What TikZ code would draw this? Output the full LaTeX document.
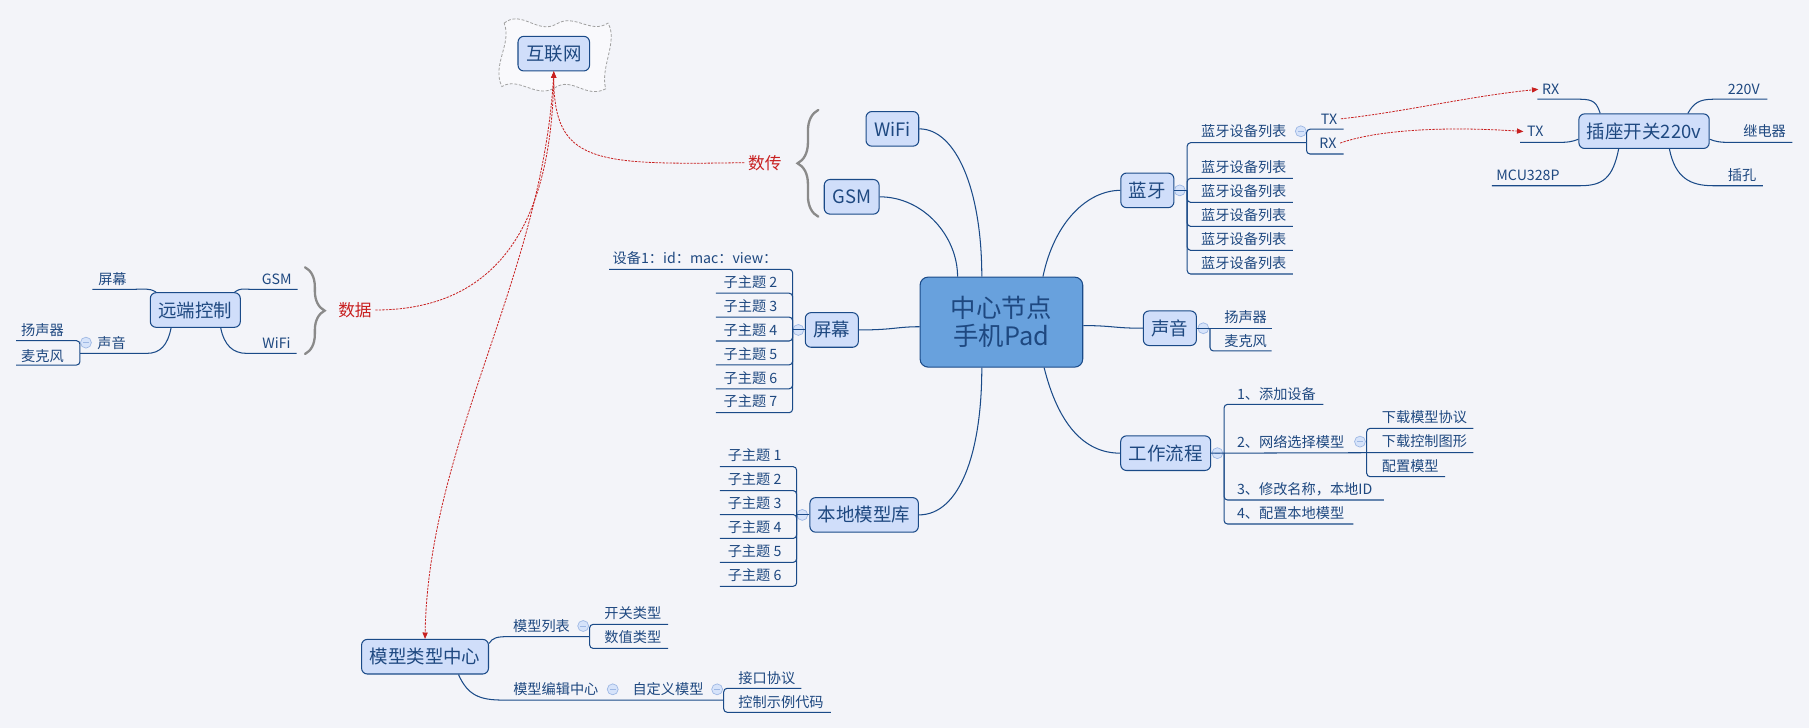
\documentclass[tikz,border=0pt]{standalone}
\usepackage{fontspec}
\setmainfont{Noto Sans CJK SC}
\usetikzlibrary{arrows.meta,decorations.pathreplacing}

\definecolor{bgc}{RGB}{243,244,249}
\definecolor{linec}{RGB}{26,74,136}
\definecolor{topicfill}{RGB}{208,222,250}
\definecolor{centralfill}{RGB}{104,161,221}
\definecolor{textc}{RGB}{30,72,128}
\definecolor{relc}{RGB}{200,32,32}
\definecolor{bracec}{RGB}{138,138,138}
\definecolor{foldc}{RGB}{158,184,228}
\definecolor{foldfill}{RGB}{214,227,250}
\definecolor{cloudc}{RGB}{160,160,160}
\definecolor{cloudfill}{RGB}{249,249,252}

\tikzset{
  topic/.style={draw=linec, line width=0.9pt, fill=topicfill, rounded corners=5pt,
    text=textc, font=\fontsize{16}{18}\selectfont, inner xsep=7pt, inner ysep=0pt,
    minimum height=30pt},
  central/.style={topic, fill=centralfill, rounded corners=7pt, align=center,
    font=\fontsize{22}{24.6}\selectfont, minimum width=141pt, minimum height=78pt},
  leaf/.style={text=textc, font=\fontsize{12.3}{14}\selectfont, inner sep=0pt},
  branch/.style={draw=linec, line width=0.9pt},
  elbow/.style={branch, rounded corners=3pt},
  fold/.style={circle, draw=foldc, fill=foldfill, minimum size=9.5pt, inner sep=0pt,
    line width=0.6pt,
    path picture={\draw[foldc, line width=0.8pt]
      ([xshift=-2.5pt]path picture bounding box.center) --
      ([xshift=2.5pt]path picture bounding box.center);}},
  rel/.style={draw=relc, line width=0.7pt, dash pattern=on 2pt off 1pt,
    -{Triangle[length=5.5pt,width=4.5pt]}},
  rellabel/.style={text=relc, font=\fontsize{14.5}{16}\selectfont, inner sep=3pt},
  curly/.style={draw=bracec, line width=2pt, line cap=round, decorate},
  cloud/.style={draw=cloudc, fill=cloudfill, line width=0.7pt, dash pattern=on 2.5pt off 1.5pt},
}

\begin{document}
\begin{tikzpicture}[x=1pt,y=-1pt]
  % Background
  \fill[bgc] (0,0) rectangle (1568,631);
  \useasboundingbox (0,0) rectangle (1568,631);

  % Cloud
  \draw[cloud] (437,20) .. controls (452,8) and (466,30) .. (482,21)
    .. controls (498,11) and (512,30) .. (527,20)
    .. controls (536,36) and (520,58) .. (525,77)
    .. controls (508,86) and (496,66) .. (481,76)
    .. controls (465,86) and (450,66) .. (435,75)
    .. controls (426,56) and (444,38) .. (437,20) -- cycle;

  % Topics
  \node[central] (central) at (868,279.2) {中心节点\\手机Pad};
  \node[topic] (wifi) at (773.5,111.7) {WiFi};
  \node[topic] (gsm) at (738.2,170.6) {GSM};
  \node[topic] (internet) at (480,46.5) {互联网};
  \node[topic] (remote) at (169.3,268.7) {远端控制};
  \node[topic] (screen) at (721,286) {屏幕};
  \node[topic] (locallib) at (749,446.3) {本地模型库};
  \node[topic] (bt) at (994.5,165) {蓝牙};
  \node[topic] (sound) at (1014,284.5) {声音};
  \node[topic] (flow) at (1010.4,392.8) {工作流程};
  \node[topic] (socket) at (1425,113.7) {插座开关220v};
  \node[topic] (modelctr) at (368.4,569.2) {模型类型中心};

  % Main branches
  \draw[branch] (wifi.east) .. controls +(32,0) and +(0,-75) .. ([xshift=-17pt]central.north);
  \draw[branch] (gsm.east) .. controls +(38,0) and +(0,-35) .. ([xshift=-38pt]central.north);
  \draw[branch] ([xshift=36pt]central.north) .. controls +(10,-48) and +(-28,0) .. (bt.west);
  \draw[branch] (screen.east) .. controls +(30,0) and +(-20,0) .. ([yshift=-4pt]central.west);
  \draw[branch] (locallib.east) .. controls +(35,0) and +(0,75) .. ([xshift=-17pt]central.south);
  \draw[branch] ([yshift=-3pt]central.east) .. controls +(25,0) and +(-25,0) .. (sound.west);
  \draw[branch] ([xshift=37pt]central.south) .. controls +(12,48) and +(-32,0) .. (flow.west);

  % Braces
  \draw[curly, decoration={brace, amplitude=18pt}] (709.3,187.8) -- (709.3,95.3);
  \node[rellabel] (transfer) at (663,141) {数传};
  \draw[curly, decoration={brace, amplitude=17pt}] (264.4,231.7) -- (264.4,306.8);
  \node[rellabel] (data) at (307.7,268.7) {数据};

  % Relations
  \draw[rel] (transfer.west) .. controls +(-130,2) and +(0,80) .. (internet.south);
  \draw[rel] (data.east) .. controls +(100,0) and +(-2,140) .. (internet.south);
  \draw[rel] (internet.south) .. controls +(-8,175) and +(3,-172) .. (modelctr.north);

  % Bluetooth list
  \node[fold] (btfold) at (1022.6,165) {};
  \draw[branch] (bt.east) -- (1029,165);
  \foreach \y [count=\i] in {154.6,175.4,196.2,217,237.5} {
    \draw[elbow] (1029,165) |- (1120.7,\y);
    \node[leaf, anchor=west] (btitem\i) at (1041,{\y-9.6}) {蓝牙设备列表};
  }
  \draw[elbow] (1029,165) |- (1132.5,123.7);
  \node[leaf, anchor=west] (btlist) at (1041,113.8) {蓝牙设备列表};
  \node[fold] (btlistfold) at (1127.5,113.8) {};
  \draw[elbow] (1132.5,123.7) |- (1164.5,112);
  \draw[elbow] (1132.5,123.7) |- (1164.5,133.5);
  \node[leaf] (bttx) at (1152,103) {TX};
  \node[leaf] (btrx) at (1151,124) {RX};

  % Socket
  \node[leaf] (sockrx) at (1344,77.4) {RX};
  \node[leaf] (socktx) at (1330.7,114) {TX};
  \node[leaf] (sockmcu) at (1324.4,151.7) {MCU328P};
  \node[leaf] (sockv) at (1511.5,77.4) {220V};
  \node[leaf] (sockrelay) at (1529.5,114) {继电器};
  \node[leaf] (sockhole) at (1510,151.7) {插孔};
  \draw[branch] ([xshift=-38pt]socket.north) .. controls +(-3,-9) and +(12,0) .. (1369.5,86) -- (1332.5,86);
  \draw[branch] ([yshift=-7pt]socket.west) .. controls +(-5,2) and +(6,0) .. (1353,123.4) -- (1317.5,123.4);
  \draw[branch] ([xshift=-22pt]socket.south) .. controls +(-5,25) and +(20,0) .. (1369.5,161) -- (1293,161);
  \draw[branch] ([xshift=38pt]socket.north) .. controls +(5,-9) and +(-12,0) .. (1485,86) -- (1532,86);
  \draw[branch] ([yshift=-7pt]socket.east) .. controls +(5,2) and +(-6,0) .. (1497,123.4) -- (1553.5,123.4);
  \draw[branch] ([xshift=22pt]socket.south) .. controls +(5,25) and +(-20,0) .. (1485,161) -- (1528,161);
  \draw[rel] ([xshift=3pt]bttx.east) .. controls +(55,-6) and +(-60,6) .. ([xshift=-3pt]sockrx.west);
  \draw[rel] ([xshift=3pt]btrx.east) .. controls +(37,-13) and +(-57,-4) .. ([xshift=-3pt]socktx.west);

  % Sound list
  \node[fold] (soundfold) at (1043,284.5) {};
  \draw[branch] (sound.east) -- (1102.3,284.5);
  \draw[elbow] (1048.8,284.5) |- (1102.3,304.2);
  \node[leaf, anchor=west] (speaker) at (1061,274.5) {扬声器};
  \node[leaf, anchor=west] (mic) at (1061,295.5) {麦克风};

  % Work flow list
  \node[fold] (flowfold) at (1055.2,392.8) {};
  \draw[branch] (flow.east) -- (1184.6,392.4) -- (1277,392.4);
  \draw[elbow] (1061,392.4) |- (1147,350.5);
  \draw[elbow] (1061,392.4) |- (1199.6,433.4);
  \draw[elbow] (1061,392.4) |- (1173,454.2);
  \node[leaf, anchor=west] (step1) at (1072,341.8) {1、添加设备};
  \node[leaf, anchor=west] (step2) at (1072,383.2) {2、网络选择模型};
  \node[leaf, anchor=west] (step3) at (1072,424.2) {3、修改名称，本地ID};
  \node[leaf, anchor=west] (step4) at (1072,445) {4、配置本地模型};
  \node[fold] (step2fold) at (1178.8,382.8) {};
  \draw[elbow] (1184.6,392.4) |- (1277,371.3);
  \draw[elbow] (1184.6,392.4) |- (1252.5,413.2);
  \node[leaf, anchor=west] (dlproto) at (1197.6,361.7) {下载模型协议};
  \node[leaf, anchor=west] (dlgraph) at (1197.6,382.8) {下载控制图形};
  \node[leaf, anchor=west] (setmodel) at (1197.6,403.6) {配置模型};

  % Screen list
  \node[fold] (screenfold) at (692,286) {};
  \draw[branch] (screen.west) -- (687,286);
  \draw[elbow] (687,286) |- (528,233.4);
  \node[leaf, anchor=east] (dev) at (674,223.8) {设备1：id：mac：view：};
  \foreach \k in {1,...,6} {
    \pgfmathtruncatemacro\n{\k+1}
    \draw[elbow] (687,286) |- (620.6,{233.4+20.72*\k});
    \node[leaf, anchor=east] (scr\k) at (674,{223.8+20.72*\k}) {子主题 \n};
  }

  % Local model library list
  \node[fold] (libfold) at (695.4,446.3) {};
  \draw[branch] (locallib.west) -- (690.5,446.3);
  \foreach \k in {0,...,5} {
    \pgfmathtruncatemacro\n{\k+1}
    \draw[elbow] (690.5,446.3) |- (624,{404.5+20.74*\k});
    \node[leaf, anchor=east] (lib\k) at (677.5,{394.9+20.74*\k}) {子主题 \n};
  }

  % Remote control
  \node[leaf] (rscreen) at (97.5,242) {屏幕};
  \node[leaf] (rgsm) at (239.8,242) {GSM};
  \node[leaf] (rwifi) at (239.7,297.6) {WiFi};
  \node[leaf] (rsound) at (96.8,297.6) {声音};
  \draw[branch] ([xshift=-34pt]remote.north) .. controls +(-6,-4) and +(10,0) .. (114,250.8) -- (80,250.8);
  \draw[branch] ([xshift=34pt]remote.north) .. controls +(6,-4) and +(-10,0) .. (219.6,250.8) -- (258,250.8);
  \draw[branch] ([xshift=22pt]remote.south) .. controls +(3,15) and +(-12,0) .. (213.8,306.3) -- (257.1,306.3);
  \draw[branch] ([xshift=-21pt]remote.south) .. controls +(-3,15) and +(12,0) .. (127.1,306.3) -- (69.3,306.3);
  \node[fold] (rsoundfold) at (74.5,297) {};
  \draw[elbow] (69.3,306.3) |- (13.9,295.3);
  \draw[elbow] (69.3,306.3) |- (13.9,316.4);
  \node[leaf] (rspeaker) at (36.8,286) {扬声器};
  \node[leaf] (rmic) at (36.8,308.3) {麦克风};

  % Model type center
  \draw[branch] ([yshift=-4pt]modelctr.north east) .. controls +(3,-5) and +(-10,0) .. (440.8,551.8) -- (511.1,551.8);
  \node[leaf] (mlist) at (469.4,542.6) {模型列表};
  \node[fold] (mlistfold) at (505.5,542.6) {};
  \draw[elbow] (511.1,551.8) |- (579.2,541.2);
  \draw[elbow] (511.1,551.8) |- (579.2,562);
  \node[leaf, anchor=west] (mswitch) at (523.7,531.6) {开关类型};
  \node[leaf, anchor=west] (mvalue) at (523.7,552.4) {数值类型};
  \draw[branch] ([xshift=29pt]modelctr.south) .. controls +(8,18) and +(-20,0) .. (435.8,606.8) -- (627.3,606.8);
  \node[leaf] (medit) at (481.8,597.5) {模型编辑中心};
  \node[fold] (meditfold) at (531.1,597.5) {};
  \node[leaf] (mcustom) at (579,597.5) {自定义模型};
  \node[fold] (mcustomfold) at (621.6,597.5) {};
  \draw[elbow] (627.3,606.8) |- (694.6,596.6);
  \draw[elbow] (627.3,606.8) |- (720.1,617.4);
  \node[leaf, anchor=west] (mport) at (639.9,587.4) {接口协议};
  \node[leaf, anchor=west] (mcode) at (639.9,608.2) {控制示例代码};
\end{tikzpicture}
\end{document}
